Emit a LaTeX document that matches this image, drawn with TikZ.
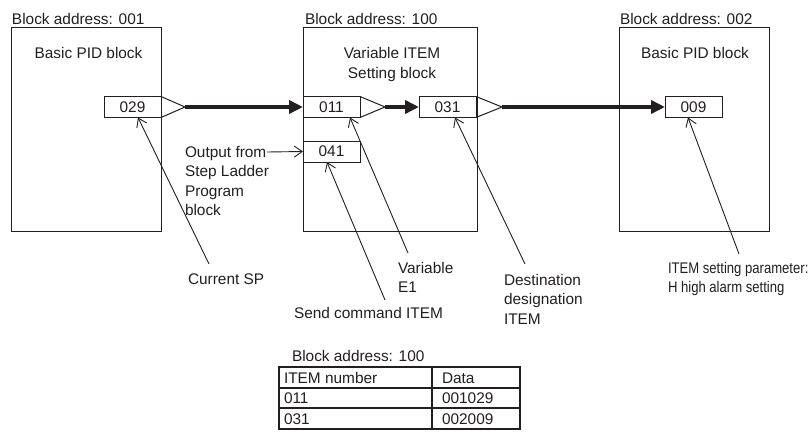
\documentclass[tikz,border=0pt]{standalone}
\usepackage{fontspec}
\setmainfont{Liberation Sans}
\newfontfamily\narrowsans[FakeStretch=0.85]{Liberation Sans}
\usetikzlibrary{arrows.meta,calc}
\definecolor{ink}{RGB}{35,31,32}
\begin{document}
\begin{tikzpicture}[x=1pt,y=-1pt,
  every node/.style={font=\fontsize{15.4}{19.5}\selectfont, text=ink, inner sep=0pt, outer sep=0pt},
  blk/.style={draw=ink, line width=1pt, anchor=north west},
  pbox/.style={draw=ink, line width=1pt, minimum width=57pt, minimum height=21pt, anchor=north west},
  tri/.style={draw=ink, line width=1pt, line join=miter},
  bus/.style={draw=ink, line width=4.5pt, -{Triangle[length=14pt,width=13pt]}},
  ptr/.style={draw=ink, line width=0.9pt, -{Straight Barb[length=8pt,width=11pt]}},
  lbl/.style={anchor=base west, align=left},
  ttl/.style={anchor=base, align=center},
  tbl/.style={draw=ink, line width=1.2pt},
  ]
\useasboundingbox[fill=white] (0,0) rectangle (810,431);

% ---- Block 001
\node[lbl] (a1) at (12,24.5) {Block address: 001};
\node[blk, minimum width=150pt, minimum height=204pt] (b1) at (11,27) {};
\node[ttl] (n1) at (88.5,58) {Basic PID block};
\node[pbox] (p029) at (104,96.5) {029};
\coordinate (t1) at (185,107);
\draw[tri] (p029.north east) -- (t1) -- (p029.south east);

% ---- Block 100
\node[lbl] (a2) at (305,24.5) {Block address: 100};
\node[blk, minimum width=174pt, minimum height=204pt] (b2) at (303,27) {};
\node[ttl] (n2) at (392,78) {Variable ITEM\\Setting block};
\node[pbox] (p011) at (303,96.5) {011};
\coordinate (t2) at (385,107);
\draw[tri] (p011.north east) -- (t2) -- (p011.south east);
\node[pbox] (p031) at (419,96.5) {031};
\coordinate (t3) at (502,107);
\draw[tri] (p031.north east) -- (t3) -- (p031.south east);
\node[pbox] (p041) at (303,141) {041};

% ---- Block 002
\node[lbl] (a3) at (620,24.5) {Block address: 002};
\node[blk, minimum width=150pt, minimum height=204pt] (b3) at (619,27) {};
\node[ttl] (n3) at (695,58) {Basic PID block};
\node[pbox] (p009) at (665,96.5) {009};

% ---- data flow
\draw[bus] (t1) -- (p011.west);
\draw[bus] (t2) -- (p031.west);
\draw[bus] (t3) -- (p009.west);

% ---- step ladder input
\node[lbl] (out) at (185,215.5) {Output from\\Step Ladder\\Program\\block};
\coordinate (o1) at (267,152);
\draw[ptr] (o1) -- (p041.west);

% ---- annotations
\node[lbl] (l1) at (188,284) {Current SP};
\coordinate (c1) at (209,264);
\draw[ptr] (c1) -- ([xshift=5.5pt]p029.south);

\node[lbl] (l2) at (398,292.5) {Variable\\E1};
\coordinate (c2) at (408,253);
\draw[ptr] (c2) -- ([xshift=18.5pt]p011.south);

\node[lbl] (l3) at (294,318) {Send command ITEM};
\coordinate (c3) at (385,300);
\draw[ptr] (c3) -- ([xshift=-4.5pt]p041.south);

\node[lbl] (l4) at (504,324) {Destination\\designation\\ITEM};
\coordinate (c4) at (525,264);
\draw[ptr] (c4) -- ([xshift=7.5pt]p031.south);

\node[lbl, font=\narrowsans\fontsize{15.4}{19.5}\selectfont] (l5) at (668,292.5) {ITEM setting parameter:\\H high alarm setting};
\coordinate (c5) at (739,254);
\draw[ptr] (c5) -- ([xshift=-5.5pt]p009.south);

% ---- table
\node[lbl] (ta) at (292,361) {Block address: 100};
\draw[tbl] (279,367) rectangle (520,429);
\draw[tbl] (279,388) -- (520,388);
\draw[tbl] (279,408) -- (520,408);
\draw[tbl] (432,367) -- (432,429);
\node[lbl] (h1) at (284,383) {ITEM number};
\node[lbl] (h2) at (442,383) {Data};
\node[lbl] (r1a) at (284,403.5) {011};
\node[lbl] (r1b) at (442,403.5) {001029};
\node[lbl] (r2a) at (284,424) {031};
\node[lbl] (r2b) at (442,424) {002009};
\end{tikzpicture}
\end{document}
